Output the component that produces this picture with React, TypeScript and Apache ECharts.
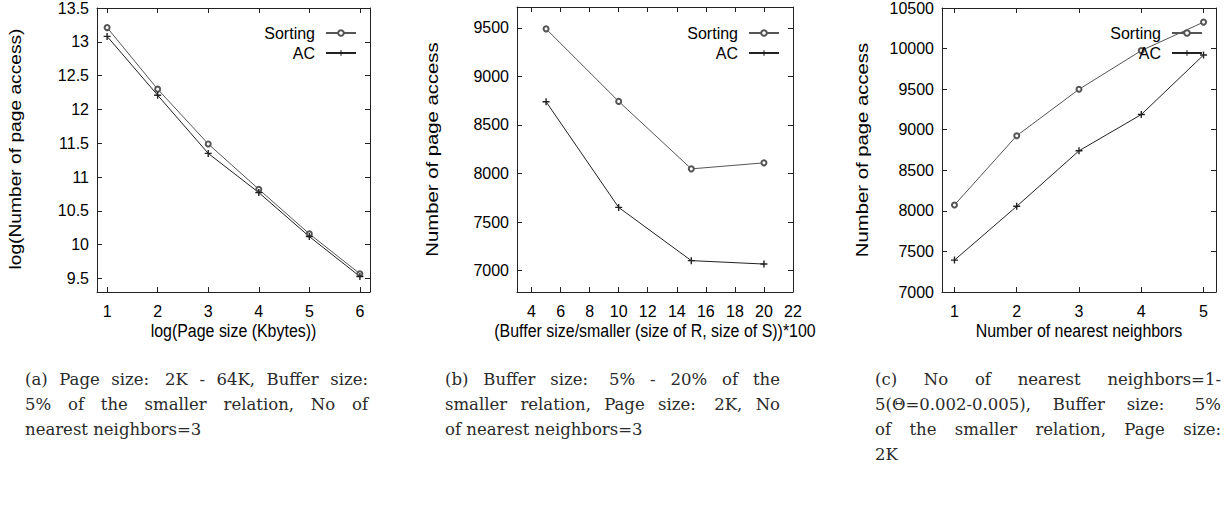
import React, { useEffect, useRef } from "react";
import * as echarts from "echarts";

// ---- data ----
const pageSizeLog = [1, 2, 3, 4, 5, 6];
const sortingA = [13.21, 12.3, 11.49, 10.82, 10.16, 9.57];
const acA = [13.08, 12.21, 11.35, 10.77, 10.12, 9.53];

const bufferPct = [5, 10, 15, 20];
const sortingB = [9490, 8743, 8048, 8110];
const acB = [8740, 7651, 7103, 7068];

const neighbors = [1, 2, 3, 4, 5];
const sortingC = [8072, 8926, 9498, 9975, 10326];
const acC = [7393, 8056, 8740, 9187, 9920];

// ---- tick labels ----
const ticksXA = [1, 2, 3, 4, 5, 6];
const ticksXB = [4, 6, 8, 10, 12, 14, 16, 18, 20, 22];
const ticksXC = [1, 2, 3, 4, 5];
const ticksYA = [9.5, 10, 10.5, 11, 11.5, 12, 12.5, 13, 13.5];
const ticksYB = [7000, 7500, 8000, 8500, 9000, 9500];
const ticksYC = [7000, 7500, 8000, 8500, 9000, 9500, 10000, 10500];

// ---- texts ----
const xTitles = [
  "log(Page size (Kbytes))",
  "(Buffer size/smaller (size of R, size of S))*100",
  "Number of nearest neighbors",
];
const yTitles = [
  "log(Number of page access)",
  "Number of page access",
  "Number of page access",
];
const captionA = [
  "(a) Page size: 2K - 64K, Buffer size:",
  "5% of the smaller relation, No of",
  "nearest neighbors=3",
];
const captionB = [
  "(b) Buffer size: 5% - 20% of the",
  "smaller relation, Page size: 2K, No",
  "of nearest neighbors=3",
];
const captionC = [
  "(c) No of nearest neighbors=1-",
  "5(\u0398=0.002-0.005), Buffer size: 5%",
  "of the smaller relation, Page size:",
  "2K",
];

const SANS = "'Liberation Sans', Arial, sans-serif";
const SERIF = "'DejaVu Serif', serif";
const PLUS = "path://M4,0H6V4H10V6H6V10H4V6H0V4H4Z";
const CAP_SIZE = 16.5;

function captionElements(lines: string[], x0: number, width: number, y0: number, pitch: number) {
  const ctx = document.createElement("canvas").getContext("2d")!;
  ctx.font = `${CAP_SIZE}px 'DejaVu Serif'`;
  const spaceW = ctx.measureText(" ").width;
  const els: any[] = [];
  const style = (text: string) => ({
    text,
    fontSize: CAP_SIZE,
    fontFamily: SERIF,
    fill: "#2a2a2a",
    textAlign: "left",
    textVerticalAlign: "middle",
    align: "left",
    verticalAlign: "middle",
  });
  lines.forEach((line, i) => {
    const y = y0 + i * pitch;
    const last = i === lines.length - 1;
    const words = line.split(" ").filter((w) => w.length > 0);
    if (last || words.length < 2) {
      els.push({ type: "text", x: x0, y, style: style(line) });
      return;
    }
    const ws = words.map((w) => ctx.measureText(w).width);
    const total = ws.reduce((a, b) => a + b, 0);
    const weights = words.slice(0, -1).map((w) => (w.endsWith(":") ? 1.4 : 1));
    const wsum = weights.reduce((a, b) => a + b, 0);
    const unit = Math.max(spaceW * 0.7, (width - total) / wsum);
    let x = x0;
    words.forEach((w, j) => {
      els.push({ type: "text", x, y, style: style(w) });
      x += ws[j] + (j < weights.length ? weights[j] * unit : 0);
    });
  });
  return els;
}

export default function App() {
  const ref = useRef<HTMLDivElement>(null);
  useEffect(() => {
    const chart = echarts.init(ref.current!, null, { renderer: "svg" });
    const grids = [
      { left: 97, top: 7, width: 273, height: 285 },
      { left: 517, top: 7, width: 276, height: 285 },
      { left: 942, top: 7, width: 274, height: 285 },
    ];
    const xSpec = [
      { min: 0.8, max: 6.2, ticks: ticksXA },
      { min: 3, max: 22, ticks: ticksXB },
      { min: 0.8, max: 5.2, ticks: ticksXC },
    ];
    const ySpec = [
      { min: 9.3, max: 13.5, ticks: ticksYA },
      { min: 6780, max: 9715, ticks: ticksYB },
      { min: 7000, max: 10500, ticks: ticksYC },
    ];
    const axisLine = { show: true, onZero: false, lineStyle: { color: "#222", width: 1 } };
    const tick = (ticks: number[]) => ({ show: true, inside: true, length: 5, customValues: ticks, lineStyle: { color: "#222" } });
    const xAxis: any[] = [];
    const yAxis: any[] = [];
    xSpec.forEach((s, i) => {
      xAxis.push({
        type: "value",
        gridIndex: i,
        position: "bottom",
        min: s.min,
        max: s.max,
        axisLine,
        axisTick: tick(s.ticks),
        axisLabel: { customValues: s.ticks, margin: 11, fontSize: 16, fontFamily: SANS, color: "#000", formatter: (v: number) => String(v) },
        splitLine: { show: false },
      });
    });
    xSpec.forEach((s, i) => {
      xAxis.push({
        type: "value",
        gridIndex: i,
        position: "top",
        min: s.min,
        max: s.max,
        axisLine,
        axisTick: tick(s.ticks),
        axisLabel: { show: false },
        splitLine: { show: false },
      });
    });
    ySpec.forEach((s, i) => {
      yAxis.push({
        type: "value",
        gridIndex: i,
        position: "left",
        min: s.min,
        max: s.max,
        axisLine,
        axisTick: tick(s.ticks),
        axisLabel: { customValues: s.ticks, margin: 8, fontSize: 16, fontFamily: SANS, color: "#000", formatter: (v: number) => String(v) },
        splitLine: { show: false },
      });
    });
    ySpec.forEach((s, i) => {
      yAxis.push({
        type: "value",
        gridIndex: i,
        position: "right",
        min: s.min,
        max: s.max,
        axisLine,
        axisTick: tick(s.ticks),
        axisLabel: { show: false },
        splitLine: { show: false },
      });
    });

    const sets = [
      { xs: pageSizeLog, sort: sortingA, ac: acA },
      { xs: bufferPct, sort: sortingB, ac: acB },
      { xs: neighbors, sort: sortingC, ac: acC },
    ];
    const series: any[] = [];
    sets.forEach((d, i) => {
      series.push({
        type: "line",
        name: "Sorting",
        xAxisIndex: i,
        yAxisIndex: i,
        data: d.xs.map((x, k) => [x, d.sort[k]]),
        symbol: "emptyCircle",
        symbolSize: 5,
        color: "#555",
        lineStyle: { width: 1, color: "#555" },
        itemStyle: { color: "#555", borderColor: "#555", borderWidth: 1 },
        silent: true,
      });
      series.push({
        type: "line",
        name: "AC",
        xAxisIndex: i,
        yAxisIndex: i,
        data: d.xs.map((x, k) => [x, d.ac[k]]),
        symbol: PLUS,
        symbolSize: 7,
        color: "#222",
        lineStyle: { width: 1, color: "#222" },
        itemStyle: { color: "#222" },
        silent: true,
      });
    });

    const legendRight = [871, 448, 25];
    const legend = legendRight.map((r) => ({
      data: ["Sorting", "AC"],
      orient: "vertical",
      align: "right",
      right: r,
      top: 25,
      itemWidth: 30,
      itemHeight: 7,
      itemGap: 4,
      padding: 0,
      selectedMode: false,
      textStyle: { fontSize: 16, fontFamily: SANS, color: "#000", padding: [0, 6, 0, 0] },
    }));

    const yTitlePos = [
      { x: 15.5, y: 149, s: 1.2 },
      { x: 432, y: 149.5, s: 1.27 },
      { x: 862, y: 150, s: 1.27 },
    ];
    const graphic: any[] = yTitles.map((t, i) => ({
      type: "text",
      x: yTitlePos[i].x,
      y: yTitlePos[i].y,
      rotation: Math.PI / 2,
      scaleX: yTitlePos[i].s,
      style: { text: t, fontSize: 16, fontFamily: SANS, fill: "#000", textAlign: "center", textVerticalAlign: "middle", align: "center", verticalAlign: "middle" },
    }));
    grids.forEach((g, i) => {
      graphic.push({
        type: "text",
        x: g.left + g.width / 2,
        y: 331,
        scaleX: 0.84,
        style: { text: xTitles[i], fontSize: 19, fontFamily: SANS, fill: "#000", textAlign: "center", textVerticalAlign: "middle", align: "center", verticalAlign: "middle" },
      });
    });
    graphic.push(...captionElements(captionA, 25, 343, 379, 25));
    graphic.push(...captionElements(captionB, 445, 335, 379, 25));
    graphic.push(...captionElements(captionC, 875, 346, 379, 25));

    chart.setOption({
      animation: false,
      backgroundColor: "#fff",
      grid: grids,
      xAxis,
      yAxis,
      legend,
      series,
      graphic,
    });
    return () => chart.dispose();
  }, []);
  return (
    <div
      ref={ref}
      style={{ position: "absolute", left: 0, top: 0, width: 1228, height: 508, background: "#fff" }}
    />
  );
}
